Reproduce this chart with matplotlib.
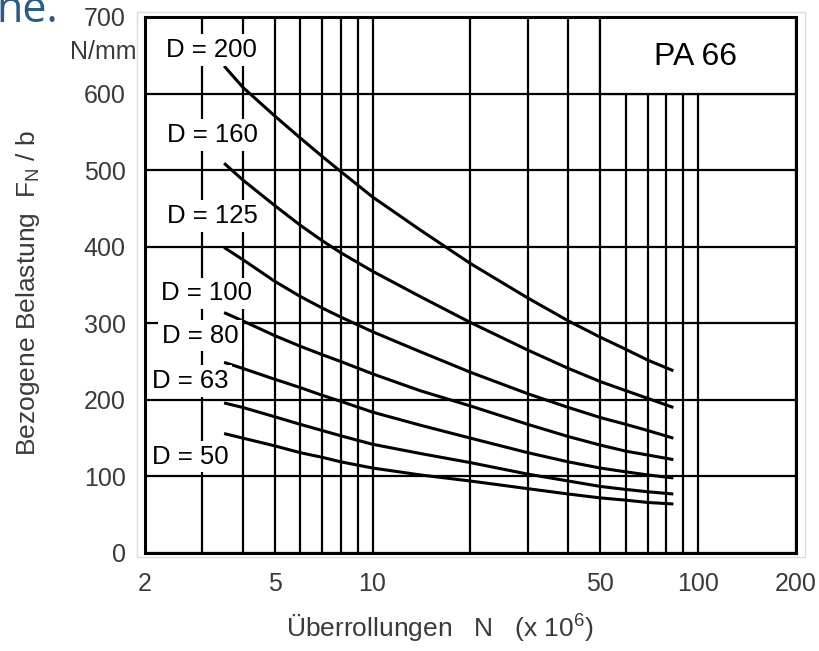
import matplotlib
matplotlib.use("Agg")
import matplotlib.pyplot as plt
from matplotlib.patches import Rectangle
from matplotlib.ticker import FixedLocator, NullFormatter

plt.rcParams['font.family'] = ['Liberation Sans', 'DejaVu Sans']
plt.rcParams['mathtext.fontset'] = 'custom'
plt.rcParams['mathtext.rm'] = 'Liberation Sans'
plt.rcParams['mathtext.it'] = 'Liberation Sans:italic'

# ---- data ----
cycles = [3.5, 4, 5, 6, 7, 8, 10, 14, 20, 30, 40, 50, 60, 70, 84]
load_D200 = [636, 608, 571, 542, 518, 498, 465, 422, 378, 333, 303, 282, 266, 252, 238]
load_D160 = [509, 487, 454, 428, 408, 392, 368, 335, 301, 265, 241, 224, 212, 202, 190]
load_D125 = [399, 383, 355, 335, 320, 308, 289, 263, 236, 208, 190, 177, 168, 160, 150]
load_D100 = [314, 303, 284, 270, 259, 250, 234, 212, 192, 168, 152, 141, 133, 128, 122]
load_D80 = [249, 241, 227, 216, 206, 198, 184, 167, 150, 131, 119, 111, 106, 102, 98]
load_D63 = [196, 190, 178, 168, 160, 153, 142, 130, 118, 103, 94, 87, 83, 80, 77]
load_D50 = [156, 150, 140, 131, 125, 119, 111, 102, 94, 84, 77, 72, 69, 66, 64]

series = [load_D200, load_D160, load_D125, load_D100, load_D80, load_D63, load_D50]
curve_labels = ["D = 200", "D = 160", "D = 125", "D = 100", "D = 80", "D = 63", "D = 50"]
label_pos = [(3.19, 657), (3.22, 546), (3.22, 440), (3.1, 339), (2.95, 284), (2.75, 225), (2.75, 126)]

x_ticks = [2, 5, 10, 50, 100, 200]
x_ticklabels = ["2", "5", "10", "50", "100", "200"]
x_minor = [3, 4, 6, 7, 8, 9, 20, 30, 40, 60, 70, 80, 90]
y_ticks = [0, 100, 200, 300, 400, 500, 600, 700]

W, H = 820, 651
fig = plt.figure(figsize=(8.2, 6.51), dpi=100)
ax = fig.add_axes([145 / W, 1 - 553 / H, (796 - 145) / W, (553 - 17) / H])

ax.set_xscale('log')
ax.set_xlim(2, 200)
ax.set_ylim(0, 700)

ax.xaxis.set_major_locator(FixedLocator(x_ticks))
ax.set_xticklabels(x_ticklabels)
ax.xaxis.set_minor_locator(FixedLocator(x_minor))
ax.xaxis.set_minor_formatter(NullFormatter())
ax.set_yticks(y_ticks)

ax.set_axisbelow(True)
ax.grid(True, which='both', axis='both', color='black', linewidth=1.6)
ax.tick_params(which='both', length=0, labelsize=18, labelcolor='#3a3a3a')
ax.tick_params(axis='y', pad=14)
ax.tick_params(axis='x', pad=14)
for s in ax.spines.values():
    s.set_linewidth(2.2)
    s.set_color('black')

# PA 66 box
ax.add_patch(Rectangle((50, 600), 150, 100, facecolor='white', edgecolor='black',
                       linewidth=1.6, zorder=1.5))
ax.text(98, 648, "PA 66", fontsize=23, ha='center', va='center', color='black', zorder=3)

for vals in series:
    ax.plot(cycles, vals, color='black', linewidth=2.2, zorder=2, solid_capstyle='butt')

for lab, (lx, ly) in zip(curve_labels, label_pos):
    ax.text(lx, ly, lab, fontsize=18.5, ha='center', va='center', color='black', zorder=4,
            bbox=dict(boxstyle='square,pad=0.15', facecolor='white', edgecolor='none'))

ax.set_xlabel("Überrollungen   N   (x 10$^\\mathregular{6}$)", fontsize=19, color='#3a3a3a')
ax.xaxis.set_label_coords(0.453, -0.112)
ax.set_ylabel("Bezogene Belastung  F$_\\mathregular{N}$ / b", fontsize=19, color='#3a3a3a')
ax.yaxis.set_label_coords(-0.158, 0.485)

fig.text(137 / W, 1 - 52 / H, "N/mm", fontsize=18, ha='right', va='center', color='#3a3a3a')

# light frame of the scanned figure
fig.add_artist(Rectangle((137 / W, 1 - 557 / H), (805 - 137) / W, (557 - 12) / H,
                         transform=fig.transFigure, facecolor='none', edgecolor='#dcdcdc',
                         linewidth=1.0, zorder=0))

fig.text(-0.004, 1 - 22 / H, "ne.", fontsize=31, family=['Open Sans', 'DejaVu Sans'],
         color='#2b5b84', ha='left', va='baseline')

fig.savefig("out.png", dpi=100)
